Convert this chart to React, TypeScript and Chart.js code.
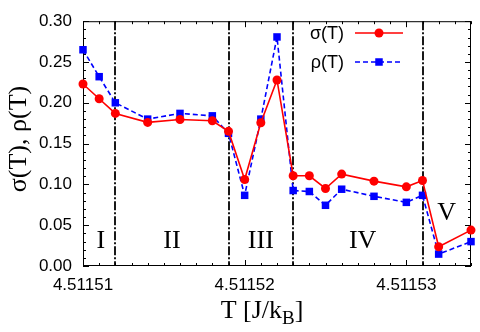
import React, { useEffect, useRef } from "react";
import { Chart, registerables } from "chart.js";

Chart.register(...registerables);

// Temperatures T [J/k_B]
const temperatures = [
  4.51151, 4.511511, 4.511512, 4.511514, 4.511516, 4.511518, 4.511519, 4.51152,
  4.511521, 4.511522, 4.511523, 4.511524, 4.511525, 4.511526, 4.511528, 4.51153,
  4.511531, 4.511532, 4.511534,
];
const sigmaValues = [
  0.223, 0.205, 0.187, 0.176, 0.1795, 0.178, 0.165, 0.106, 0.1756, 0.228, 0.1106,
  0.1106, 0.095, 0.1126, 0.104, 0.097, 0.1048, 0.0236, 0.044,
];
const rhoValues = [
  0.265, 0.232, 0.2, 0.18, 0.187, 0.184, 0.1626, 0.0866, 0.18, 0.2807, 0.0925,
  0.0913, 0.0744, 0.0941, 0.0854, 0.078, 0.0866, 0.0146, 0.0299,
];
const phaseBoundaries = [4.511512, 4.511519, 4.511523, 4.511531];
const phaseLabels = ["I", "II", "III", "IV", "V"];
const phaseLabelT = [4.5115111, 4.5115155, 4.511521, 4.5115273, 4.5115325];
const phaseLabelY = [0.0221, 0.0221, 0.0221, 0.0221, 0.0563];
const xTickLabels = ["4.51151", "4.51152", "4.51153"];
const yTickLabels = ["0.00", "0.05", "0.10", "0.15", "0.20", "0.25", "0.30"];

const T0 = 4.5115;
const toX = (t: number) => Math.round((t - T0) * 1e7) / 10; // in units of 1e-6

const SANS = "'Liberation Sans', Arial, sans-serif";
const SERIF = "'Liberation Serif', 'Times New Roman', serif";

const decorPlugin = {
  id: "decor",
  beforeDatasetsDraw(chart: any) {
    const { ctx, chartArea: a, scales } = chart;
    const xs = scales.x;
    const ys = scales.y;
    ctx.save();
    // phase boundaries (dash-dot)
    ctx.strokeStyle = "#000";
    ctx.lineWidth = 1.8;
    ctx.setLineDash([9, 2, 2, 2]);
    phaseBoundaries.forEach((t) => {
      const px = Math.round(xs.getPixelForValue(toX(t)));
      ctx.beginPath();
      ctx.moveTo(px, a.top);
      ctx.lineTo(px, a.bottom);
      ctx.stroke();
    });
    ctx.setLineDash([]);
    // frame
    ctx.lineWidth = 1;
    ctx.strokeRect(a.left + 0.5, a.top + 0.5, a.right - a.left - 1, a.bottom - a.top - 1);
    // x ticks
    for (let v = 10; v <= 34; v++) {
      const px = Math.round(xs.getPixelForValue(v)) + 0.5;
      const len = v % 10 === 0 ? 6 : 3;
      ctx.beginPath();
      ctx.moveTo(px, a.bottom);
      ctx.lineTo(px, a.bottom - len);
      ctx.moveTo(px, a.top);
      ctx.lineTo(px, a.top + len);
      ctx.stroke();
    }
    // y ticks
    for (let i = 0; i <= 30; i++) {
      const py = Math.round(ys.getPixelForValue(i / 100)) + 0.5;
      const len = i % 5 === 0 ? 6 : 3;
      ctx.beginPath();
      ctx.moveTo(a.left, py);
      ctx.lineTo(a.left + len, py);
      ctx.moveTo(a.right, py);
      ctx.lineTo(a.right - len, py);
      ctx.stroke();
    }
    // phase labels
    ctx.fillStyle = "#000";
    ctx.font = `26px ${SERIF}`;
    ctx.textAlign = "center";
    ctx.textBaseline = "alphabetic";
    phaseLabels.forEach((lab, i) => {
      ctx.fillText(lab, xs.getPixelForValue(toX(phaseLabelT[i])), ys.getPixelForValue(phaseLabelY[i]));
    });
    ctx.restore();
  },
  afterDraw(chart: any) {
    const { ctx } = chart;
    ctx.save();
    ctx.fillStyle = "#000";
    // legend
    ctx.font = `18px ${SANS}`;
    ctx.textAlign = "right";
    ctx.textBaseline = "middle";
    const rows = [
      { text: "σ(T)", color: "#ff0000", dash: [] as number[], shape: "circle", y: 33 },
      { text: "ρ(T)", color: "#0000ff", dash: [5, 3], shape: "rect", y: 62 },
    ];
    rows.forEach((r) => {
      ctx.fillStyle = "#000";
      ctx.fillText(r.text, 344, r.y + 1);
      ctx.strokeStyle = r.color;
      ctx.lineWidth = 1.6;
      ctx.setLineDash(r.dash);
      ctx.beginPath();
      ctx.moveTo(355, r.y);
      ctx.lineTo(403, r.y);
      ctx.stroke();
      ctx.setLineDash([]);
      ctx.fillStyle = r.color;
      if (r.shape === "circle") {
        ctx.beginPath();
        ctx.arc(379, r.y, 4.5, 0, Math.PI * 2);
        ctx.fill();
      } else {
        ctx.fillRect(379 - 3.75, r.y - 3.75, 7.5, 7.5);
      }
    });
    // x title with subscript
    ctx.fillStyle = "#000";
    ctx.textBaseline = "alphabetic";
    ctx.textAlign = "left";
    const big = `26px ${SERIF}`;
    const small = `19px ${SERIF}`;
    ctx.font = big;
    const p1 = "T [J/k";
    const w1 = ctx.measureText(p1).width;
    ctx.font = small;
    const w2 = ctx.measureText("B").width;
    ctx.font = big;
    const w3 = ctx.measureText("]").width;
    const total = w1 + w2 + w3;
    let x = 262 - total / 2;
    const base = 318;
    ctx.fillText(p1, x, base);
    x += w1;
    ctx.font = small;
    ctx.fillText("B", x, base + 6);
    x += w2;
    ctx.font = big;
    ctx.fillText("]", x, base);
    // y title
    ctx.translate(19, 139);
    ctx.rotate(-Math.PI / 2);
    ctx.textAlign = "center";
    ctx.textBaseline = "middle";
    ctx.font = `26px ${SERIF}`;
    ctx.fillText("σ(T), ρ(T)", 0, 0);
    ctx.restore();
  },
};

export default function App() {
  const ref = useRef<HTMLCanvasElement | null>(null);
  useEffect(() => {
    if (!ref.current) return;
    const xVals = temperatures.map(toX);
    const chart = new Chart(ref.current, {
      type: "line",
      data: {
        datasets: [
          {
            label: "σ(T)",
            data: xVals.map((x, i) => ({ x, y: sigmaValues[i] })),
            borderColor: "#ff0000",
            backgroundColor: "#ff0000",
            borderWidth: 1.6,
            pointStyle: "circle",
            pointRadius: 4.5,
            pointBorderWidth: 0,
            pointHoverRadius: 4.5,
            tension: 0,
            clip: false as any,
          },
          {
            label: "ρ(T)",
            data: xVals.map((x, i) => ({ x, y: rhoValues[i] })),
            borderColor: "#0000ff",
            backgroundColor: "#0000ff",
            borderWidth: 1.6,
            borderDash: [5, 3],
            pointStyle: "rect",
            pointRadius: 5.3,
            pointBorderWidth: 0,
            pointHoverRadius: 5.3,
            tension: 0,
            clip: false as any,
          },
        ],
      },
      options: {
        animation: false,
        responsive: false,
        events: [],
        layout: { padding: { top: 12, right: 8, left: 0, bottom: 0 } },
        plugins: { legend: { display: false }, tooltip: { enabled: false } },
        scales: {
          x: {
            type: "linear",
            min: 10,
            max: 34,
            grid: { display: false, drawTicks: false },
            border: { display: false },
            afterFit: (s: any) => {
              s.height = 66;
            },
            ticks: {
              stepSize: 1,
              autoSkip: false,
              maxRotation: 0,
              padding: 9,
              color: "#000",
              font: { family: SANS, size: 17 },
              callback: (v: any) => {
                const n = Math.round(Number(v));
                if (Math.abs(Number(v) - n) > 1e-6 || n % 10 !== 0) return "";
                return xTickLabels[n / 10 - 1] ?? "";
              },
            },
          },
          y: {
            type: "linear",
            min: 0,
            max: 0.3,
            grid: { display: false, drawTicks: false },
            border: { display: false },
            afterFit: (s: any) => {
              s.width = 83;
            },
            ticks: {
              stepSize: 0.05,
              padding: 11,
              color: "#000",
              font: { family: SANS, size: 17 },
              callback: (v: any) => yTickLabels[Math.round(Number(v) / 0.05)] ?? "",
            },
          },
        },
      },
      plugins: [decorPlugin],
    });
    return () => chart.destroy();
  }, []);
  return (
    <div style={{ position: "absolute", left: 0, top: 0, width: 480, height: 332, background: "#fff" }}>
      <canvas ref={ref} width={480} height={332} style={{ width: 480, height: 332 }} />
    </div>
  );
}
